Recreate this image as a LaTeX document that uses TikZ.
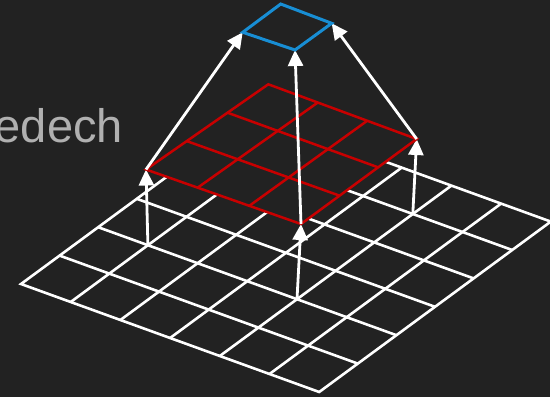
\documentclass[tikz,border=0pt]{standalone}
\usepackage{fontspec}
\setmainfont{Liberation Sans}
\usetikzlibrary{arrows.meta,calc}

\definecolor{bgdark}{RGB}{34,34,34}
\definecolor{textgray}{RGB}{176,176,176}
\definecolor{gridred}{RGB}{200,0,0}
\definecolor{gridblue}{RGB}{24,142,212}

\begin{document}
\begin{tikzpicture}[x=1pt, y=-1pt, >={Triangle[length=16pt, width=15pt]},
  wline/.style={white, line width=2.6pt},
  rline/.style={gridred, line width=2.5pt},
  bline/.style={gridblue, line width=3pt},
  uparrow/.style={->, white, line width=2.8pt}]
  % Hintergrund
  \fill[bgdark] (0,0) rectangle (550,397);
  \useasboundingbox (0,0) rectangle (550,397);

  \node[textgray, anchor=base east, inner sep=0pt, font=\fontsize{47}{56}\selectfont] (title) at (123,142) {edech};

  % untere Ebene 6x6
  \begin{scope}[shift={(21,284)}, x={(49.7pt,-18pt)}, y={(38.6pt,28.4pt)}]
    \foreach \i in {1,...,5} {
      \draw[wline] (\i,0) -- (\i,6);
      \draw[wline] (0,\i) -- (6,\i);
    }
    \draw[wline] (0,0) -- (6,0) -- (6,6) -- (0,6) -- cycle;
    \coordinate (wA) at (1,2);
    \coordinate (wB) at (4,2);
    \coordinate (wC) at (4,5);
  \end{scope}

  % mittlere Ebene 3x3
  \coordinate (rL) at (146,169.5);
  \coordinate (rB) at (301,224);
  \coordinate (rR) at (416.7,139);
  \coordinate (rT) at (268.3,84.3);

  % obere Ebene 1x1
  \coordinate (bL) at (242.7,32.3);
  \coordinate (bB) at (295,50);
  \coordinate (bR) at (331.7,23.3);
  \coordinate (bT) at (280.7,4);

  \draw[uparrow] (wA) -- (rL);
  \draw[uparrow] (wB) -- (rB);
  \draw[uparrow] (wC) -- (rR);

  \fill[bgdark] (rL) -- (rB) -- (rR) -- (rT) -- cycle;
  \foreach \i in {1,2} {
    \draw[rline] ($(rL)!\i/3!(rB)$) -- ($(rT)!\i/3!(rR)$);
    \draw[rline] ($(rL)!\i/3!(rT)$) -- ($(rB)!\i/3!(rR)$);
  }
  \draw[rline] (rL) -- (rB) -- (rR) -- (rT) -- cycle;

  \draw[uparrow] (rL) -- (bL);
  \draw[uparrow] (rB) -- (bB);
  \draw[uparrow] (rR) -- (bR);

  \draw[bline] (bL) -- (bB) -- (bR) -- (bT) -- cycle;
\end{tikzpicture}
\end{document}
